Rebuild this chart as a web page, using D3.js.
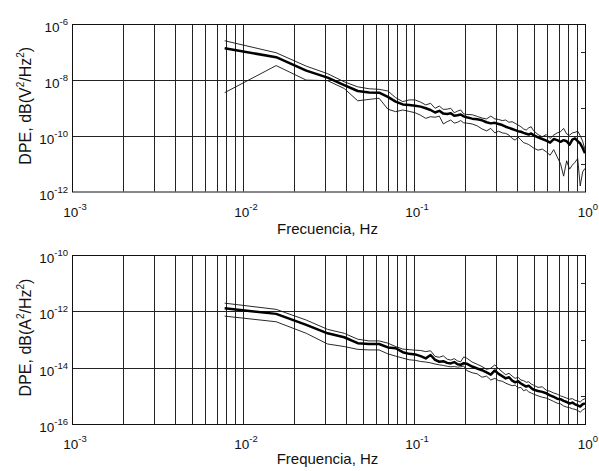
<!DOCTYPE html>
<html>
<head>
<meta charset="utf-8">
<script src="https://cdn.jsdelivr.net/npm/d3@7"></script>
<style>
  body { margin: 0; background: #fff; }
  svg { font-family: "Liberation Sans", Arial, Helvetica, sans-serif; }
</style>
</head>
<body>
<svg id="chart" width="599" height="471"></svg>
<script>
// frequency bins (resolution 1/128 Hz)
var bins = [1, 2, 3, 4, 5, 6, 7, 8, 9, 10, 11, 12, 13, 14, 15, 16, 17, 18, 19, 20,
  21, 22, 23, 24, 25, 26, 28, 30, 32, 34, 36, 38, 40, 42, 44, 46, 48, 50, 52, 54,
  56, 58, 60, 62, 64, 68, 72, 76, 80, 84, 88, 92, 96, 100, 104, 108, 112, 116, 120, 124, 128];
var binWidth = 1 / 128;

var xDecades = [-3, -2, -1, 0];

// voltage spectrum, log10 values: mean, upper and lower bound
var vMean = [-6.87, -7.19, -7.67, -7.92, -8.19, -8.40, -8.45, -8.46, -8.61, -8.78, -8.88, -8.90, -8.93, -8.96, -9.02, -9.08, -9.17, -9.11, -9.21, -9.22,
  -9.20, -9.29, -9.27, -9.24, -9.31, -9.34, -9.39, -9.41, -9.45, -9.52, -9.56, -9.54, -9.58, -9.62, -9.68, -9.72, -9.76, -9.80, -9.84, -9.86,
  -9.90, -9.93, -9.96, -9.92, -9.98, -10.06, -10.12, -10.18, -10.25, -10.12, -10.16, -10.22, -10.16, -10.20, -10.32, -10.14, -10.10, -10.20, -10.28, -10.44, -10.63];
var vHigh = [-6.60, -7.03, -7.51, -7.78, -8.07, -8.25, -8.32, -8.34, -8.40, -8.64, -8.78, -8.72, -8.72, -8.80, -8.90, -8.84, -9.02, -8.94, -9.06, -9.05,
  -9.02, -9.18, -9.12, -9.08, -9.22, -9.24, -9.25, -9.31, -9.37, -9.40, -9.30, -9.40, -9.42, -9.46, -9.44, -9.52, -9.50, -9.56, -9.62, -9.68,
  -9.76, -9.80, -9.72, -9.68, -9.82, -9.96, -10.04, -9.96, -10.10, -9.98, -9.90, -9.86, -9.74, -9.94, -9.98, -9.90, -9.88, -9.84, -10.00, -10.20, -10.50];
var vLow = [-8.46, -7.49, -8.01, -8.03, -8.31, -8.75, -8.70, -8.66, -9.05, -9.14, -9.08, -9.13, -9.18, -9.27, -9.38, -9.32, -9.34, -9.30, -9.58, -9.50,
  -9.44, -9.55, -9.52, -9.46, -9.54, -9.55, -9.58, -9.65, -9.76, -9.83, -9.74, -9.90, -9.84, -9.90, -9.92, -9.98, -10.10, -10.16, -10.05, -10.15,
  -10.25, -10.28, -10.32, -10.38, -10.44, -10.52, -10.48, -10.58, -10.70, -10.50, -10.76, -11.00, -11.45, -10.90, -11.20, -11.05, -10.95, -10.82, -11.80, -11.30, -11.17];

// current spectrum, log10 values
var iMean = [-11.89, -12.09, -12.48, -12.78, -12.92, -13.13, -13.16, -13.16, -13.28, -13.31, -13.45, -13.51, -13.53, -13.59, -13.67, -13.55, -13.72, -13.79, -13.77, -13.83,
  -13.85, -13.80, -13.88, -13.90, -13.84, -13.86, -13.96, -14.03, -14.09, -14.17, -14.25, -14.10, -14.22, -14.30, -14.38, -14.34, -14.46, -14.52, -14.48, -14.56,
  -14.62, -14.67, -14.64, -14.72, -14.78, -14.83, -14.86, -14.91, -14.98, -15.04, -15.10, -15.12, -15.18, -15.22, -15.27, -15.24, -15.30, -15.34, -15.38, -15.30, -15.27];
var iHigh = [-11.71, -11.93, -12.31, -12.64, -12.78, -12.99, -13.05, -13.05, -13.13, -13.25, -13.34, -13.36, -13.38, -13.39, -13.43, -13.40, -13.60, -13.63, -13.58, -13.70,
  -13.73, -13.68, -13.76, -13.79, -13.62, -13.66, -13.80, -13.88, -13.96, -14.06, -14.02, -13.90, -14.04, -14.15, -14.25, -14.20, -14.30, -14.38, -14.34, -14.44,
  -14.46, -14.52, -14.50, -14.58, -14.62, -14.70, -14.68, -14.80, -14.84, -14.90, -14.94, -15.00, -15.04, -15.08, -15.12, -15.10, -15.16, -15.18, -15.22, -15.14, -15.10];
var iLow = [-12.17, -12.37, -12.78, -13.16, -13.25, -13.35, -13.37, -13.37, -13.51, -13.59, -13.66, -13.72, -13.74, -13.78, -13.80, -13.83, -13.87, -13.90, -13.92, -13.95,
  -13.97, -13.96, -13.98, -13.97, -13.94, -14.10, -14.18, -14.22, -14.34, -14.30, -14.44, -14.38, -14.46, -14.48, -14.55, -14.60, -14.64, -14.62, -14.72, -14.70,
  -14.82, -14.78, -14.86, -14.90, -14.94, -15.00, -15.05, -15.08, -15.14, -15.20, -15.26, -15.28, -15.36, -15.40, -15.42, -15.46, -15.48, -15.52, -15.58, -15.50, -15.45];

var svg = d3.select('#chart');
var left = 72, right = 585;

function series(vals) {
  return bins.map(function(b, i) { return {f: b * binWidth, v: Math.pow(10, vals[i])}; });
}

// "10" with a raised exponent
function powLabel(sel, e) {
  sel.append('tspan').text('10');
  sel.append('tspan').attr('dy', -7).attr('font-size', 9.5).text(e);
}

function drawPanel(p) {
  var x = d3.scaleLog().domain([1e-3, 1]).range([left, right]);
  var y = d3.scaleLog().domain([Math.pow(10, p.yMin), Math.pow(10, p.yMax)]).range([p.bottom, p.top]);
  var g = svg.append('g');

  // vertical grid at every 1..9 multiple
  g.selectAll('.vg')
      .data(x.ticks().filter(function(d) { return d > 1.0001e-3 && d < 0.9999; }))
    .enter().append('line')
      .attr('x1', function(d) { return Math.round(x(d)) + 0.5; })
      .attr('x2', function(d) { return Math.round(x(d)) + 0.5; })
      .attr('y1', p.top).attr('y2', p.bottom)
      .attr('stroke', '#222').attr('stroke-width', 1);

  // horizontal grid at labelled decades
  var labelled = d3.range(p.yMax, p.yMin - 1, -2);
  g.selectAll('.hg')
      .data(labelled.filter(function(e) { return e < p.yMax && e > p.yMin; }))
    .enter().append('line')
      .attr('x1', left).attr('x2', right)
      .attr('y1', function(e) { return Math.round(y(Math.pow(10, e))) + 0.5; })
      .attr('y2', function(e) { return Math.round(y(Math.pow(10, e))) + 0.5; })
      .attr('stroke', '#222').attr('stroke-width', 1);

  // small ticks on the right side at the odd decades
  g.selectAll('.rt')
      .data(d3.range(p.yMax - 1, p.yMin, -2))
    .enter().append('line')
      .attr('x1', right - 4).attr('x2', right)
      .attr('y1', function(e) { return Math.round(y(Math.pow(10, e))) + 0.5; })
      .attr('y2', function(e) { return Math.round(y(Math.pow(10, e))) + 0.5; })
      .attr('stroke', '#222');

  // frame
  g.append('rect')
      .attr('x', left + 0.5).attr('y', p.top + 0.5)
      .attr('width', right - left).attr('height', p.bottom - p.top)
      .attr('fill', 'none').attr('stroke', '#111').attr('stroke-width', 1);

  var line = d3.line()
      .x(function(d) { return x(d.f); })
      .y(function(d) { return y(d.v); });

  [p.high, p.low].forEach(function(s) {
    g.append('path').datum(series(s))
        .attr('d', line).attr('fill', 'none')
        .attr('stroke', '#111').attr('stroke-width', 0.9)
        .attr('stroke-linejoin', 'round');
  });
  g.append('path').datum(series(p.mean))
      .attr('d', line).attr('fill', 'none')
      .attr('stroke', '#000').attr('stroke-width', 2.5)
      .attr('stroke-linejoin', 'round');

  // y tick labels
  labelled.forEach(function(e) {
    var t = g.append('text')
        .attr('x', 68).attr('y', y(Math.pow(10, e)) + 8)
        .attr('text-anchor', 'end').attr('font-size', 13.5).attr('fill', '#111');
    powLabel(t, String(e));
  });

  // x tick labels
  xDecades.forEach(function(e) {
    var t = g.append('text')
        .attr('x', x(Math.pow(10, e)) + 3).attr('y', p.bottom + 25)
        .attr('text-anchor', 'middle').attr('font-size', 13.5).attr('fill', '#111');
    powLabel(t, String(e));
  });

  // axis titles
  g.append('text')
      .attr('x', (left + right) / 2 - 1).attr('y', p.bottom + p.titleGap)
      .attr('text-anchor', 'middle').attr('font-size', 15).attr('fill', '#111')
      .text(p.xTitle);

  var yt = g.append('text')
      .attr('transform', 'translate(31,' + ((p.top + p.bottom) / 2 - 2) + ') rotate(-90)')
      .attr('text-anchor', 'middle').attr('font-size', 16).attr('fill', '#111');
  yt.append('tspan').text('DPE, dB(' + p.unit);
  yt.append('tspan').attr('dy', -7).attr('font-size', 10).text('2');
  yt.append('tspan').attr('dy', 7).text('/Hz');
  yt.append('tspan').attr('dy', -7).attr('font-size', 10).text('2');
  yt.append('tspan').attr('dy', 7).text(')');
}

drawPanel({top: 24, bottom: 191.5, yMax: -6, yMin: -12, unit: 'V',
  mean: vMean, high: vHigh, low: vLow, xTitle: 'Frecuencia, Hz', titleGap: 42});
drawPanel({top: 255, bottom: 424, yMax: -10, yMin: -16, unit: 'A',
  mean: iMean, high: iHigh, low: iLow, xTitle: 'Frequencia, Hz', titleGap: 40});
</script>
</body>
</html>
